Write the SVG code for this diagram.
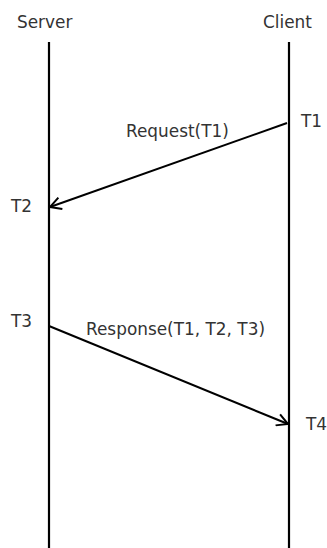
<svg xmlns="http://www.w3.org/2000/svg" width="327" height="548" viewBox="0 0 327 548">
<style>
text{font-family:"DejaVu Sans",sans-serif;font-size:16.9px;fill:#333}
.life{stroke:#000;stroke-width:2.2;fill:none}
.msg{stroke:#000;stroke-width:2;fill:none}
</style>
<defs>
<marker id="ah" viewBox="-12 -7 14 14" markerWidth="14" markerHeight="14" refX="0" refY="0" orient="auto" markerUnits="userSpaceOnUse">
<path d="M-11,-6 L0,0 L-11,6" fill="none" stroke="#000" stroke-width="2"/>
</marker>
</defs>
<rect width="327" height="548" fill="#fff"/>
<g id="server">
<text x="17" y="28">Server</text>
<line class="life" x1="49" y1="42" x2="49" y2="548"/>
</g>
<g id="client">
<text x="263" y="28">Client</text>
<line class="life" x1="289" y1="42" x2="289" y2="548"/>
</g>
<g id="labels">
<text x="301" y="127">T1</text>
<text x="11" y="212">T2</text>
<text x="11" y="327">T3</text>
<text x="306" y="430">T4</text>
</g>
<g id="connectors">
<line class="msg" x1="287" y1="123" x2="50" y2="207" marker-end="url(#ah)"/>
<text x="126" y="137">Request(T1)</text>
<line class="msg" x1="49" y1="326" x2="288" y2="424" marker-end="url(#ah)"/>
<text x="86" y="335">Response(T1, T2, T3)</text>
</g>
</svg>
